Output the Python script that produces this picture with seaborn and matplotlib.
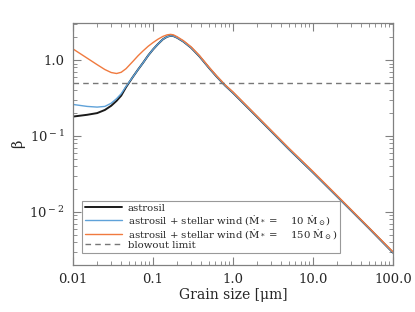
import numpy as np
import pandas as pd
import matplotlib
matplotlib.use("Agg")
import matplotlib.pyplot as plt
import matplotlib.ticker as mticker
import seaborn as sns

sns.set_style("ticks")
plt.rcParams["font.family"] = ["DejaVu Serif"]
plt.rcParams["mathtext.fontset"] = "dejavuserif"

# ===========================
# DATA
# ===========================

grain_size = [0.01, 0.015, 0.02, 0.025, 0.03, 0.035, 0.04, 0.046, 0.056,
              0.065, 0.075, 0.087, 0.1, 0.115, 0.133, 0.15, 0.166, 0.18,
              0.2, 0.24, 0.3, 0.38, 0.5, 0.62, 0.8, 1.0, 2.0, 5.0, 10.0,
              20.0, 50.0, 100.0]

beta_astrosil = [0.18, 0.19, 0.20, 0.22, 0.25, 0.29, 0.34, 0.44, 0.60,
                 0.75, 0.92, 1.15, 1.38, 1.62, 1.88, 2.03, 2.09, 2.07,
                 1.97, 1.75, 1.45, 1.12, 0.79, 0.61, 0.46, 0.37, 0.178,
                 0.067, 0.033, 0.016, 0.0061, 0.0029]

beta_wind10 = [0.26, 0.245, 0.24, 0.245, 0.27, 0.31, 0.36, 0.45, 0.60,
               0.75, 0.92, 1.15, 1.38, 1.62, 1.88, 2.03, 2.09, 2.07,
               1.97, 1.75, 1.45, 1.12, 0.79, 0.61, 0.46, 0.37, 0.178,
               0.067, 0.033, 0.016, 0.0061, 0.0029]

beta_wind150 = [1.40, 1.06, 0.87, 0.75, 0.685, 0.665, 0.69, 0.77, 0.96,
                1.14, 1.32, 1.52, 1.70, 1.88, 2.05, 2.15, 2.18, 2.15,
                2.03, 1.80, 1.49, 1.15, 0.81, 0.625, 0.47, 0.38, 0.182,
                0.069, 0.034, 0.0164, 0.0062, 0.00297]

blowout_limit = 0.5

labels = [
    "astrosil",
    "astrosil + stellar wind (Ṁ$_*$ =    10 Ṁ$_\\odot$)",
    "astrosil + stellar wind (Ṁ$_*$ =    150 Ṁ$_\\odot$)",
]
colors = ["#1a1a1a", "#5fa2d9", "#f07a3f"]
widths = [1.4, 1.0, 1.0]

df = pd.DataFrame({
    "a": grain_size * 3,
    "beta": beta_astrosil + beta_wind10 + beta_wind150,
    "model": [labels[0]] * len(grain_size)
             + [labels[1]] * len(grain_size)
             + [labels[2]] * len(grain_size),
})

# ===========================
# PLOT
# ===========================

fig = plt.figure(figsize=(4.15, 3.12), dpi=100)
ax = fig.add_axes([0.176, 0.151, 0.771, 0.775])

for lab, col, lw in zip(labels, colors, widths):
    sns.lineplot(
        data=df[df["model"] == lab],
        x="a",
        y="beta",
        color=col,
        linewidth=lw,
        label=lab,
        ax=ax,
    )

ax.axhline(blowout_limit, color="#777777", linestyle=(0, (4, 3)),
           linewidth=1.0, label="blowout limit")

ax.set_xscale("log")
ax.set_yscale("log")
ax.set_xlim(0.01, 100)
ax.set_ylim(0.002, 3.07)

ax.xaxis.set_major_locator(mticker.FixedLocator([0.01, 0.1, 1, 10, 100]))
ax.xaxis.set_major_formatter(mticker.FixedFormatter(
    ["0.01", "0.1", "1.0", "10.0", "100.0"]))
ax.yaxis.set_major_locator(mticker.FixedLocator([0.01, 0.1, 1]))
ax.yaxis.set_major_formatter(mticker.FixedFormatter(
    [r"10$^{\rm -2}$", r"10$^{\rm -1}$", "1.0"]))
ax.xaxis.set_minor_locator(mticker.LogLocator(subs=np.arange(2, 10)))
ax.yaxis.set_minor_locator(mticker.LogLocator(subs=np.arange(2, 10)))
ax.xaxis.set_minor_formatter(mticker.NullFormatter())
ax.yaxis.set_minor_formatter(mticker.NullFormatter())

ax.tick_params(which="both", direction="in", top=True, right=True,
               color="#808080", labelsize=9.5)
ax.tick_params(which="major", length=6, width=0.8, pad=6)
ax.tick_params(which="minor", length=3, width=0.6)
for sp in ax.spines.values():
    sp.set_color("#808080")
    sp.set_linewidth(0.9)

ax.set_xlabel("Grain size [μm]", fontsize=10, labelpad=1)
ax.set_ylabel("β", fontsize=10.5, labelpad=3)

leg = ax.legend(loc="lower left", fontsize=7.3, frameon=True, fancybox=False,
                edgecolor="#808080", borderpad=0.3, labelspacing=0.0,
                handlelength=3.6, handletextpad=0.6, borderaxespad=0,
                bbox_to_anchor=(0.028, 0.05))
leg.get_frame().set_linewidth(0.8)

fig.savefig("out.png", dpi=100)
